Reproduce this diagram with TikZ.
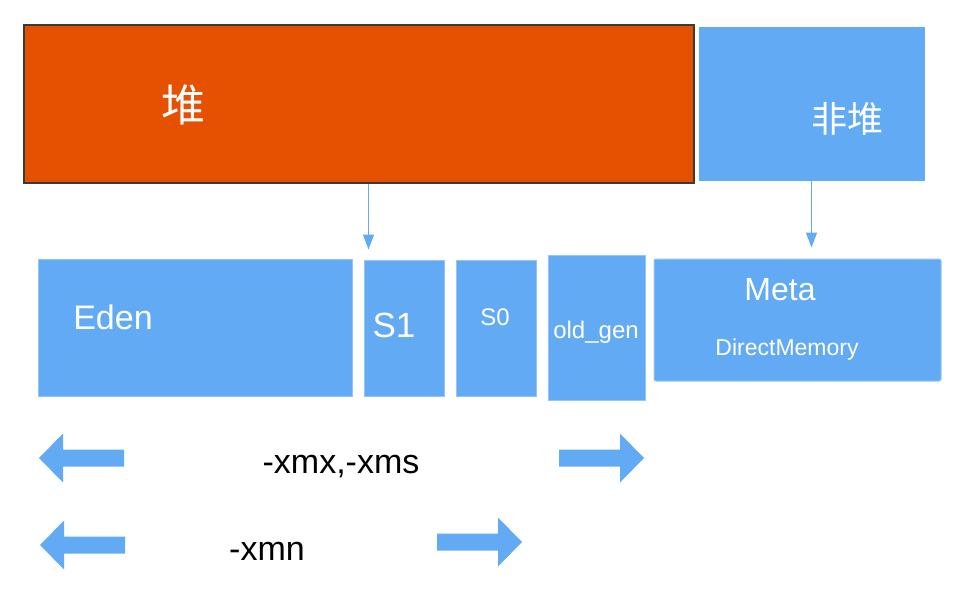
\documentclass[tikz,border=0pt]{standalone}
\usepackage{fontspec}
\setmainfont{Liberation Sans}
\newfontfamily\cjk{Noto Sans CJK SC}
\usetikzlibrary{arrows.meta}
\definecolor{heaporange}{RGB}{229,81,0}
\definecolor{heapedge}{RGB}{58,58,58}
\definecolor{memblue}{RGB}{99,170,245}
\definecolor{edgeblue}{RGB}{150,196,246}

\begin{document}
\begin{tikzpicture}[x=1pt,y=-1pt,
		area/.style={fill=memblue,draw=edgeblue,line width=1pt,inner sep=0pt},
		lbl/.style={text=white,inner sep=0pt},
		txt/.style={text=black,inner sep=0pt,font=\fontsize{34}{34}\selectfont},
		link/.style={draw=memblue,line width=1.5pt,-{Triangle[length=15pt,width=11pt]}}]
			\useasboundingbox (0,0) rectangle (968,600);

			\node[fill=heaporange,draw=heapedge,line width=2pt,inner sep=0pt,minimum width=670pt,minimum height=158pt] (heap) at (359,104) {};
			\node[area,draw=memblue,minimum width=225pt,minimum height=153pt] (nonheap) at (811.5,103.5) {};
			\node[lbl,font=\cjk\fontsize{44}{44}\selectfont] (heaplbl) at (183,105) {堆};
			\node[lbl,font=\cjk\fontsize{36}{36}\selectfont] (nonheaplbl) at (847,119) {非堆};

			\node[area,minimum width=314pt,minimum height=137pt] (eden) at (195,327.5) {};
			\node[area,minimum width=80pt,minimum height=136pt] (s1) at (404,328) {};
			\node[area,minimum width=80pt,minimum height=136pt] (s0) at (496,328) {};
			\node[area,minimum width=97pt,minimum height=145pt] (oldgen) at (596.5,327.5) {};
			\node[area,rounded corners=2pt,minimum width=287pt,minimum height=122pt] (meta) at (797.5,320) {};

			\node[lbl,font=\fontsize{34}{34}\selectfont] (edenlbl) at (113,317) {Eden};
			\node[lbl,font=\fontsize{35}{35}\selectfont] (s1lbl) at (394,325) {S1};
			\node[lbl,font=\fontsize{24}{24}\selectfont] (s0lbl) at (495,317) {S0};
			\node[lbl,font=\fontsize{24}{24}\selectfont] (oldgenlbl) at (596,332) {old\_gen};
			\node[lbl,font=\fontsize{32}{32}\selectfont] (metalbl) at (780,290) {Meta};
			\node[lbl,font=\fontsize{23}{23}\selectfont] (directlbl) at (787,350) {DirectMemory};

			\draw[link] ([xshift=5pt]s1.west |- heap.south) -- ([xshift=5pt,yshift=10pt]s1.north west);
			\draw[link] (nonheap.south) -- ([yshift=11pt]nonheap.south |- meta.north);

			\foreach \tx/\ty/\d in {39/458/1, 40/545/1, 644/458/-1, 522/542/-1}
				\fill[memblue] (\tx,\ty) -- ++(\d*24,-24.5) -- ++(0,16) -- ++(\d*61,0) -- ++(0,17) -- ++(-\d*61,0) -- ++(0,16) -- cycle;
			\node[txt] (xmx) at (341,467) {-xmx,-xms};
			\node[txt] (xmn) at (267,551) {-xmn};
		\end{tikzpicture}
\end{document}
